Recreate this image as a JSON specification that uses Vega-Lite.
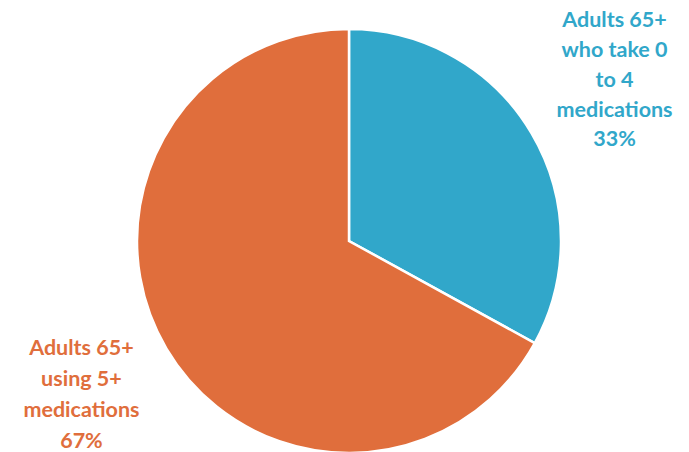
{
  "$schema": "https://vega.github.io/schema/vega-lite/v6.json",
  "autosize": {"type": "none"},
  "padding": {"left": 9, "top": 15, "right": 0, "bottom": 0},
  "width": 680,
  "height": 452,
  "background": "white",
  "view": {"stroke": null},
  "data": {
    "values": [
      {"group": "Adults 65+ who take 0 to 4 medications", "value": 33, "label": "Adults 65+\nwho take 0\nto 4\nmedications\n33%"},
      {"group": "Adults 65+ using 5+ medications", "value": 67, "label": "Adults 65+\nusing 5+\nmedications\n67%"}
    ]
  },
  "encoding": {
    "theta": {"field": "value", "type": "quantitative", "stack": true},
    "order": {"field": "value", "type": "quantitative", "sort": "ascending"},
    "color": {
      "field": "group",
      "type": "nominal",
      "sort": ["Adults 65+ who take 0 to 4 medications", "Adults 65+ using 5+ medications"],
      "scale": {"domain": ["Adults 65+ who take 0 to 4 medications", "Adults 65+ using 5+ medications"], "range": ["#31A7CA", "#E06E3C"]},
      "legend": null
    }
  },
  "layer": [
    {"mark": {"type": "arc", "outerRadius": 212, "stroke": "white", "strokeWidth": 2.5}},
    {
      "mark": {"type": "text", "radius": 312, "dx": -3, "dy": -61, "font": "Lato", "fontWeight": "bold", "fontSize": 21.5, "lineHeight": 29.8, "lineBreak": "\n", "align": "center", "baseline": "middle"},
      "encoding": {
        "text": {"field": "label", "type": "nominal"},
        "opacity": {"condition": {"test": "datum.value < 50", "value": 1}, "value": 0}
      }
    },
    {
      "mark": {"type": "text", "radius": 312, "dx": 1, "dy": -51, "font": "Lato", "fontWeight": "bold", "fontSize": 21.5, "lineHeight": 31, "lineBreak": "\n", "align": "center", "baseline": "middle"},
      "encoding": {
        "text": {"field": "label", "type": "nominal"},
        "opacity": {"condition": {"test": "datum.value > 50", "value": 1}, "value": 0}
      }
    }
  ]
}
